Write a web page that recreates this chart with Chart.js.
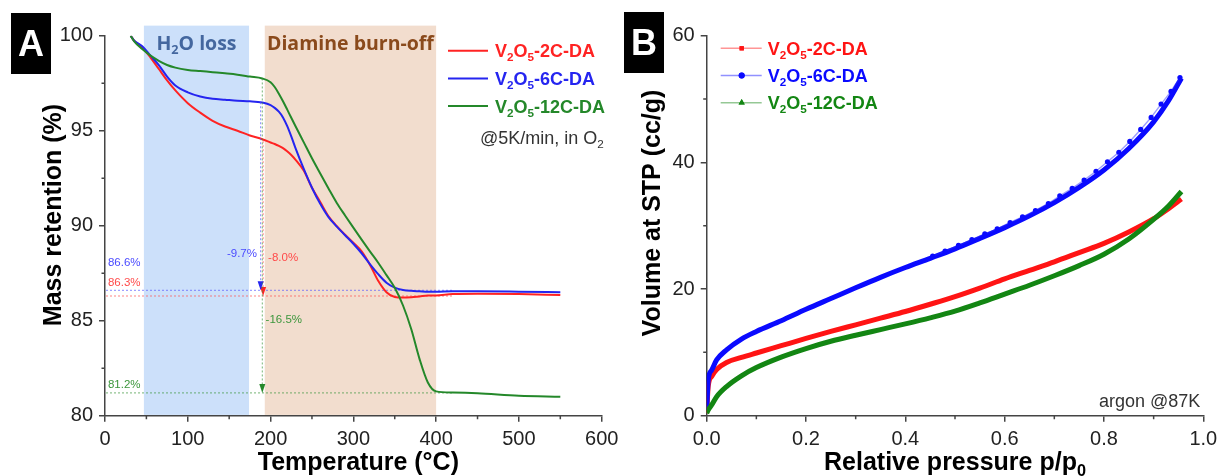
<!DOCTYPE html>
<html>
<head>
<meta charset="utf-8">
<style>
  html, body { margin: 0; padding: 0; background: #fff; }
  #wrap { position: relative; width: 1218px; height: 476px; }
  #wrap canvas { position: absolute; left: 0; top: 0; }
</style>
</head>
<body>
<div id="wrap">
  <canvas id="tga" width="1218" height="476"></canvas>
  <canvas id="iso" width="1218" height="476"></canvas>
</div>

<script src="https://cdn.jsdelivr.net/npm/chart.js"></script>

<script>
  // ---- data ----
  const series = ['V_2O_5-2C-DA', 'V_2O_5-6C-DA', 'V_2O_5-12C-DA'];

  // panel A: TGA, temperature (°C) vs mass retention (%)
  const tgaTemp  = [31, 35, 45, 55, 65, 75, 85, 100, 115, 130, 145, 160, 175, 190, 200, 205, 210, 215, 220, 225, 230, 240, 250, 260, 270, 280, 290, 300, 310, 320, 330, 340, 350, 360, 370, 380, 390, 400, 420, 450, 500, 550];
  const tgaRed   = [100, 99.75, 99.38, 98.85, 98.25, 97.65, 97.12, 96.45, 95.95, 95.52, 95.22, 95.0, 94.75, 94.55, 94.38, 94.3, 94.2, 94.08, 93.92, 93.72, 93.48, 92.9, 92.0, 91.25, 90.5, 89.98, 89.52, 89.1, 88.65, 87.95, 87.1, 86.5, 86.25, 86.22, 86.24, 86.28, 86.32, 86.33, 86.4, 86.42, 86.4, 86.35];
  const tgaBlue  = [100, 99.75, 99.45, 98.95, 98.45, 97.85, 97.38, 97.02, 96.8, 96.68, 96.63, 96.58, 96.55, 96.48, 96.35, 96.2, 96.0, 95.7, 95.25, 94.7, 94.1, 93.0, 92.0, 91.15, 90.45, 89.95, 89.5, 89.05, 88.55, 87.98, 87.45, 87.0, 86.74, 86.62, 86.57, 86.55, 86.53, 86.53, 86.55, 86.55, 86.53, 86.5];
  const tgaGreen = [100, 99.72, 99.3, 98.95, 98.68, 98.46, 98.32, 98.2, 98.14, 98.08, 98.02, 97.95, 97.85, 97.75, 97.55, 97.3, 96.95, 96.55, 96.12, 95.68, 95.25, 94.4, 93.55, 92.75, 91.96, 91.2, 90.54, 89.9, 89.27, 88.65, 88.05, 87.4, 86.73, 85.8, 84.55, 82.98, 81.75, 81.28, 81.22, 81.18, 81.05, 81.0];

  const regionNames = ['H_2O loss', 'Diamine burn-off'];
  const regionFrom  = [47, 193];
  const regionTo    = [174, 400];
  const markTemp    = [191, 188, 190];      // red, blue, green
  const startMass   = [94.45, 96.5, 97.75];
  const finalMass   = [86.3, 86.6, 81.2];
  const lossLabels  = ['-8.0%', '-9.7%', '-16.5%'];

  // panel B: argon isotherm, relative pressure vs volume (cc/g)
  const isoP     = [0, 0.003, 0.01, 0.02, 0.04, 0.07, 0.1, 0.15, 0.2, 0.25, 0.3, 0.35, 0.4, 0.45, 0.5, 0.55, 0.6, 0.65, 0.7, 0.75, 0.8, 0.85, 0.9, 0.93, 0.956];
  const isoRed   = [0.4, 4.6, 6.2, 7.3, 8.4, 9.2, 9.9, 11.05, 12.2, 13.3, 14.35, 15.4, 16.45, 17.6, 18.8, 20.15, 21.6, 22.95, 24.3, 25.75, 27.2, 29.0, 31.1, 32.7, 34.2];
  const isoBlue  = [0.9, 5.6, 7.2, 8.8, 10.4, 12.1, 13.3, 15.0, 16.8, 18.5, 20.2, 21.85, 23.4, 24.85, 26.35, 28.0, 29.7, 31.55, 33.65, 36.05, 38.8, 42.2, 46.4, 49.74, 53.3];
  const isoGreen = [0.4, 0.9, 1.7, 3.0, 4.6, 6.3, 7.6, 9.25, 10.6, 11.75, 12.7, 13.6, 14.5, 15.45, 16.5, 17.8, 19.2, 20.6, 22.1, 23.7, 25.5, 27.9, 31.0, 33.1, 35.4];
  const desP     = [0.455, 0.48, 0.507, 0.534, 0.56, 0.585, 0.611, 0.636, 0.662, 0.688, 0.711, 0.736, 0.76, 0.784, 0.807, 0.83, 0.852, 0.874, 0.895, 0.915, 0.935, 0.953];
  const desBlue  = [25.2, 26.0, 26.9, 27.8, 28.7, 29.5, 30.5, 31.4, 32.4, 33.5, 34.7, 35.9, 37.2, 38.6, 40.1, 41.6, 43.3, 45.2, 47.1, 49.2, 51.2, 53.4];

  // ---- styles ----
  const FONT = '"Liberation Sans", Arial, sans-serif';
  const HUMAN = '"Open Sans", sans-serif';
  const AXIS = '#444';
  const tgaColors = ['#ff2323', '#2525f0', '#24882a'];
  const isoColors = ['#ff1414', '#0a0aff', '#138613'];
  const guideColors = ['rgba(255,80,80,0.7)', 'rgba(90,90,255,0.7)', 'rgba(60,150,60,0.7)'];
  const noteColors = ['#ff4a4a', '#4a4aff', '#3c963c'];
  const regionFill = ['#cce0fa', '#f2ddce'];
  const regionText = ['#44679f', '#8a4a1c'];

  // 'V_2O_5' -> pieces, "_x" is a subscript char
  function pieces(str) {
    const out = [];
    const re = /_(.)|([^_]+)/g;
    let m;
    while ((m = re.exec(str))) out.push(m[1] ? [m[1], true] : [m[2], false]);
    return out;
  }

  function drawRich(ctx, str, x, y, o) {
    const size = o.size, weight = o.weight || 'normal', family = o.family || FONT;
    const fontFor = sub => `${weight} ${sub ? size * 0.65 : size}px ${family}`;
    const parts = pieces(str);
    let w = 0;
    parts.forEach(([t, sub]) => { ctx.font = fontFor(sub); w += ctx.measureText(t).width; });
    let cx = o.align === 'center' ? x - w / 2 : o.align === 'right' ? x - w : x;
    ctx.save();
    ctx.fillStyle = o.color || '#000';
    ctx.textAlign = 'left';
    ctx.textBaseline = 'alphabetic';
    parts.forEach(([t, sub]) => {
      ctx.font = fontFor(sub);
      ctx.fillText(t, cx, sub ? y + size * 0.22 : y);
      cx += ctx.measureText(t).width;
    });
    ctx.restore();
  }

  function drawRotated(ctx, str, x, y, o) {
    ctx.save();
    ctx.translate(x, y);
    ctx.rotate(-Math.PI / 2);
    drawRich(ctx, str, 0, 0, o);
    ctx.restore();
  }

  function minorTicks(chart) {
    const { ctx, chartArea: a, scales: { x, y } } = chart;
    const mids = s => s.ticks.slice(1).map((t, i) => (t.value + s.ticks[i].value) / 2);
    ctx.save();
    ctx.strokeStyle = AXIS;
    ctx.lineWidth = 1.5;
    ctx.beginPath();
    mids(x).forEach(v => { const px = x.getPixelForValue(v); ctx.moveTo(px, a.bottom); ctx.lineTo(px, a.bottom + 3.5); });
    mids(y).forEach(v => { const py = y.getPixelForValue(v); ctx.moveTo(a.left, py); ctx.lineTo(a.left - 3.5, py); });
    ctx.stroke();
    ctx.restore();
  }

  function panelLetter(ctx, letter, x, y) {
    ctx.save();
    ctx.fillStyle = '#000';
    ctx.fillRect(x, y, 40, 61);
    ctx.restore();
    drawRich(ctx, letter, x + 20, y + 43, { size: 36, weight: 'bold', color: '#fff', align: 'center' });
  }

  const axisCommon = (tickPad) => ({
    type: 'linear',
    grid: { display: true, drawOnChartArea: false, drawTicks: true, tickLength: 6, tickColor: AXIS, lineWidth: 1.5, tickWidth: 1.5 },
    border: { display: true, color: AXIS, width: 1.5 },
    ticks: { color: '#222', font: { family: FONT, size: 20 }, padding: tickPad },
  });

  // ---- panel A decorations ----
  const tgaDecor = {
    id: 'tgaDecor',
    beforeDatasetsDraw(chart) {
      const { ctx, chartArea: a, scales: { x, y } } = chart;
      ctx.save();
      const top = y.getPixelForValue(100.53);
      regionFrom.forEach((t0, i) => {
        const x0 = x.getPixelForValue(t0), x1 = x.getPixelForValue(regionTo[i]);
        ctx.fillStyle = regionFill[i];
        ctx.fillRect(x0, top, x1 - x0, a.bottom - 0.8 - top);
      });
      ctx.setLineDash([2, 2]);
      ctx.lineWidth = 1;
      finalMass.forEach((m, i) => {
        const py = y.getPixelForValue(m);
        ctx.strokeStyle = guideColors[i];
        ctx.beginPath();
        ctx.moveTo(a.left + 1, py);
        ctx.lineTo(x.getPixelForValue(420), py);
        ctx.stroke();
      });
      ctx.restore();
    },
    afterDatasetsDraw(chart) {
      const { ctx, scales: { x, y } } = chart;
      ctx.save();
      markTemp.forEach((t, i) => {
        const px = x.getPixelForValue(t);
        const y0 = y.getPixelForValue(startMass[i]);
        const y1 = y.getPixelForValue(finalMass[i]);
        ctx.setLineDash([2, 2]);
        ctx.lineWidth = 1;
        ctx.strokeStyle = guideColors[i];
        ctx.beginPath();
        ctx.moveTo(px, y0);
        ctx.lineTo(px, y1 - 8);
        ctx.stroke();
        ctx.setLineDash([]);
        ctx.fillStyle = tgaColors[i];
        ctx.beginPath();
        ctx.moveTo(px - 3, y1 - 9);
        ctx.lineTo(px + 3, y1 - 9);
        ctx.lineTo(px, y1);
        ctx.closePath();
        ctx.fill();
      });
      ctx.restore();

      const note = { size: 11.5, family: FONT };
      // level labels near the axis
      const levelY = [87.06, 88.07, 81.65];
      finalMass.forEach((m, i) => {
        drawRich(ctx, m.toFixed(1) + '%', x.getPixelForValue(3.5), y.getPixelForValue(levelY[i]) + 4, { ...note, color: noteColors[i] });
      });
      // loss labels next to the arrows
      const lossAt = [[197, 88.37, 'left'], [183.6, 88.55, 'right'], [194, 85.07, 'left']];
      lossLabels.forEach((txt, i) => {
        const [t, m, al] = lossAt[i];
        drawRich(ctx, txt, x.getPixelForValue(t), y.getPixelForValue(m) + 4, { ...note, color: noteColors[i], align: al });
      });
    },
    afterDraw(chart) {
      const { ctx, chartArea: a, scales: { x } } = chart;
      minorTicks(chart);

      regionNames.forEach((name, i) => {
        const cx = (x.getPixelForValue(regionFrom[i]) + x.getPixelForValue(regionTo[i])) / 2;
        drawRich(ctx, name, cx, a.top + 14.5, { size: 19.5, weight: 'bold', family: HUMAN, color: regionText[i], align: 'center' });
      });

      series.forEach((name, i) => {
        const cy = a.top + 15 + i * 27.7;
        ctx.save();
        ctx.strokeStyle = tgaColors[i];
        ctx.lineWidth = 2;
        ctx.beginPath();
        ctx.moveTo(a.left + 343, cy);
        ctx.lineTo(a.left + 383, cy);
        ctx.stroke();
        ctx.restore();
        drawRich(ctx, name, a.left + 390, cy + 6.5, { size: 18, weight: 'bold', color: tgaColors[i] });
      });
      drawRich(ctx, '@5K/min, in O_2', a.left + 375, a.top + 108, { size: 18, color: '#333' });

      drawRich(ctx, 'Temperature (°C)', (a.left + a.right) / 2 + 5, 469.5, { size: 25, weight: 'bold', color: '#000', align: 'center' });
      drawRotated(ctx, 'Mass retention (%)', 61, 215, { size: 25, weight: 'bold', color: '#000', align: 'center' });
      panelLetter(ctx, 'A', 11, 13);
    },
  };

  // ---- panel B decorations ----
  const isoMarks = ['rect', 'circle', 'triangle'];
  const isoDecor = {
    id: 'isoDecor',
    afterDraw(chart) {
      const { ctx, chartArea: a } = chart;
      minorTicks(chart);

      series.forEach((name, i) => {
        const cy = a.top + 12.6 + i * 27.2;
        ctx.save();
        ctx.strokeStyle = isoColors[i];
        ctx.globalAlpha = 0.45;
        ctx.lineWidth = 1.5;
        ctx.beginPath();
        ctx.moveTo(a.left + 14, cy);
        ctx.lineTo(a.left + 55, cy);
        ctx.stroke();
        ctx.restore();
        ctx.save();
        ctx.fillStyle = isoColors[i];
        Chart.helpers.drawPoint(ctx, { pointStyle: isoMarks[i], radius: i === 2 ? 3.6 : 3, borderWidth: 0 }, a.left + 35, cy);
        ctx.fill();
        ctx.restore();
        drawRich(ctx, name, a.left + 61, cy + 6.5, { size: 18, weight: 'bold', color: isoColors[i] });
      });

      drawRich(ctx, 'argon @87K', a.right - 3, a.bottom - 9, { size: 18, color: '#333', align: 'right' });
      drawRich(ctx, 'Relative pressure p/p_0', (a.left + a.right) / 2, 470, { size: 25, weight: 'bold', color: '#000', align: 'center' });
      drawRotated(ctx, 'Volume at STP (cc/g)', 660, 213, { size: 25, weight: 'bold', color: '#000', align: 'center' });
      panelLetter(ctx, 'B', 624, 12);
    },
  };

  // ---- charts ----
  const xA = axisCommon(6), yA = axisCommon(6);
  new Chart(document.getElementById('tga'), {
    type: 'line',
    data: {
      datasets: [tgaRed, tgaBlue, tgaGreen].map((vals, i) => ({
        label: series[i],
        data: tgaTemp.map((t, j) => ({ x: t, y: vals[j] })),
        borderColor: tgaColors[i],
        borderWidth: 2,
        pointRadius: 0,
        cubicInterpolationMode: 'monotone',
        order: [3, 2, 1][i],
      })),
    },
    options: {
      responsive: false,
      animation: false,
      events: [],
      layout: { padding: { left: 0, top: 35.7, right: 616.3, bottom: 0 } },
      plugins: { legend: { display: false }, tooltip: { enabled: false } },
      scales: {
        x: { ...xA, min: 0, max: 600, ticks: { ...xA.ticks, stepSize: 100 },
             afterFit: s => { s.height = 60.3; s.paddingLeft = 0; s.paddingRight = 0; } },
        y: { ...yA, min: 80, max: 100, ticks: { ...yA.ticks, stepSize: 5 },
             afterFit: s => { s.width = 105; s.paddingTop = 0; s.paddingBottom = 0; } },
      },
    },
    plugins: [tgaDecor],
  });

  const xB = axisCommon(6), yB = axisCommon(6);
  const isoSets = [isoRed, isoBlue, isoGreen].map((vals, i) => ({
    label: series[i],
    data: isoP.map((p, j) => ({ x: p, y: vals[j] })),
    borderColor: isoColors[i],
    borderWidth: 5,
    pointRadius: 0,
    cubicInterpolationMode: 'monotone',
    order: [4, 3, 2][i],
  }));
  isoSets.push({
    label: 'V_2O_5-6C-DA desorption',
    data: desP.map((p, j) => ({ x: p, y: desBlue[j] })),
    borderColor: 'rgba(40,40,255,0.45)',
    borderWidth: 1.5,
    pointRadius: 2.6,
    pointBackgroundColor: isoColors[1],
    pointBorderWidth: 0,
    order: 1,
  });

  new Chart(document.getElementById('iso'), {
    type: 'line',
    data: { datasets: isoSets },
    options: {
      responsive: false,
      animation: false,
      events: [],
      layout: { padding: { left: 646.7, top: 35.7, right: 14.7, bottom: 0 } },
      plugins: { legend: { display: false }, tooltip: { enabled: false } },
      scales: {
        x: { ...xB, min: 0, max: 1, ticks: { ...xB.ticks, stepSize: 0.2, callback: v => v.toFixed(1) },
             afterFit: s => { s.height = 60.3; s.paddingLeft = 0; s.paddingRight = 0; } },
        y: { ...yB, min: 0, max: 60, ticks: { ...yB.ticks, stepSize: 20 },
             afterFit: s => { s.width = 60; s.paddingTop = 0; s.paddingBottom = 0; } },
      },
    },
    plugins: [isoDecor],
  });
</script>
</body>
</html>
